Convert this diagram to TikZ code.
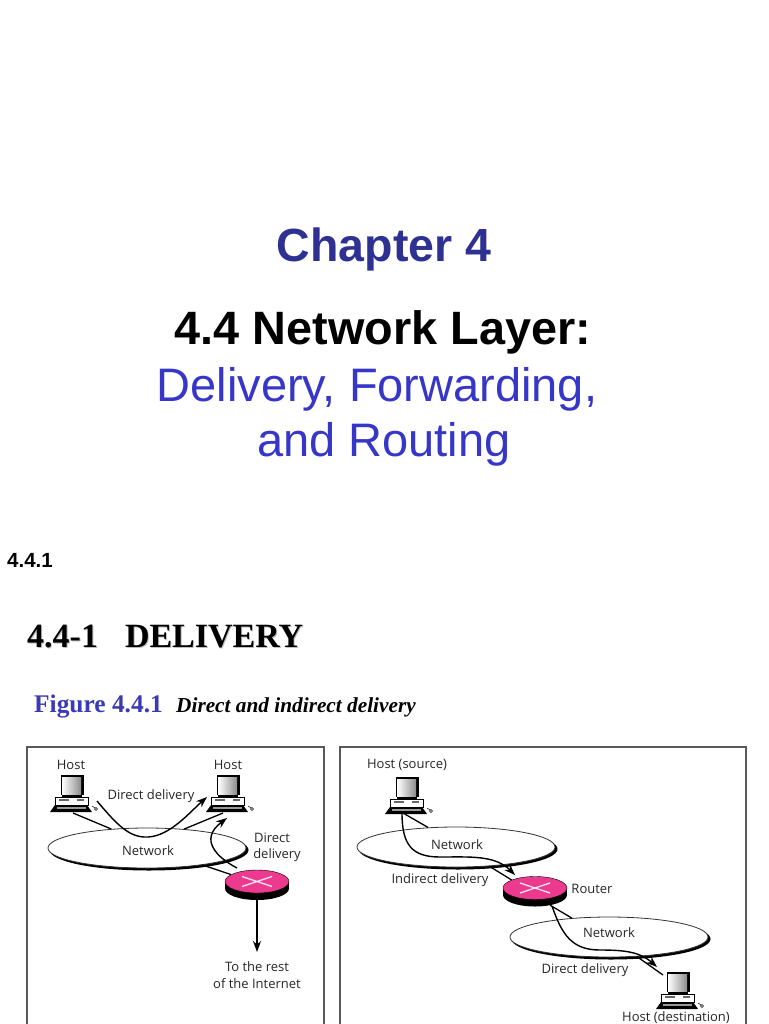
\documentclass[tikz,border=0pt]{standalone}
\usepackage{fontspec}
\setmainfont{Liberation Sans}
\newfontfamily\headfont{Liberation Serif}
\newfontfamily\labelfont{Open Sans}
\usetikzlibrary{shapes.geometric,arrows.meta}
\definecolor{chapblue}{HTML}{2E3192}
\definecolor{titleblue}{HTML}{3636C8}
\definecolor{figblue}{HTML}{3A3AB4}
\definecolor{routerpink}{HTML}{EC3A8E}
\tikzset{
  titlebig/.style={font=\fontsize{47}{50}\selectfont},
  headtext/.style={font=\headfont\bfseries\fontsize{34}{36}\selectfont},
  figtext/.style={font=\headfont\bfseries\fontsize{25.4}{28}\selectfont,text=figblue},
  captext/.style={font=\headfont\bfseries\itshape\fontsize{21.3}{24}\selectfont},
  lab/.style={font=\labelfont\fontsize{13}{17}\selectfont,text=black!85,align=center,inner sep=0},
  netshape/.style={ellipse,draw=black!80,fill=white,line width=0.8pt,minimum width=198pt,minimum height=40pt,inner sep=0},
  netshadow/.style={ellipse,fill=black,minimum width=199pt,minimum height=41pt,inner sep=0},
  frameline/.style={draw=black!65,line width=1.2pt},
  wire/.style={draw=black,line width=1.3pt},
  carry/.style={draw=black,line width=1.4pt,-{Stealth[length=11pt,width=8pt]}},
  pics/hostpc/.style={code={
    \fill[black] (-10,0) rectangle (10,2);
    \draw[black,fill=white,line width=0.5pt] (-17,2) rectangle (16,10);
    \fill[black!60] (-13,4) rectangle (-3,6);
    \fill[black!60] (5,4) rectangle (12,6);
    \fill[black] (-11,0) -- (-11,-20) -- (12,-20) -- (12,0) -- cycle;
    \shade[left color=white,right color=black!45] (-10,-1) rectangle (9,-18);
    \fill[black] (-17,10) -- (15,10) -- (20,17) -- (-22,17) -- cycle;
    \fill[black!40] (-15,12) rectangle (14,14);
    \draw[black,line width=0.5pt] (20,11) -- (23,13);
    \draw[black,fill=white,line width=0.4pt] (24,14) circle (1.5);
  }},
  pics/routerbox/.style={code={
    \node[ellipse,fill=black,minimum width=64pt,minimum height=23pt,inner sep=0] (-low) at (0,7) {};
    \fill[black] (-32,0) rectangle (32,7);
    \node[ellipse,draw=black,fill=routerpink,line width=0.4pt,minimum width=64pt,minimum height=23pt,inner sep=0] (-top) at (0,0) {};
    \draw[white!85!routerpink,line width=1.3pt] (-15,-5) -- (15,5) (-15,5) -- (15,-5);
  }}
}
\begin{document}
\begin{tikzpicture}[x=1pt,y=-1pt]
\fill[white] (0,0) rectangle (768,1024);
\useasboundingbox (0,0) rectangle (768,1024);
% titles
\node[font=\bfseries\fontsize{46.5}{50}\selectfont,text=chapblue] (chaptitle) at (384,249) {Chapter 4};
\node[font=\bfseries\fontsize{46.8}{50}\selectfont] (layertitle) at (383,332) {4.4 Network Layer:};
\node[titlebig,text=titleblue] (deliverytitle) at (377,389) {Delivery, Forwarding,};
\node[titlebig,text=titleblue] (routingtitle) at (384,444) {and Routing};
\node[font=\bfseries\fontsize{20.5}{22}\selectfont,anchor=west,inner sep=0] (secnum) at (7,560) {4.4.1};
\node[headtext,text=black!25,anchor=west,inner sep=0] (headshadow) at (28,638) {4.4-1\hspace{27pt}DELIVERY};
\node[headtext,anchor=west,inner sep=0] (headtitle) at (27,636.5) {4.4-1\hspace{27pt}DELIVERY};
\node[figtext,anchor=west,inner sep=0] (figtitle) at (34,706) {Figure 4.4.1};
\node[captext,anchor=west,inner sep=0] (figcaption) at (176,707.5) {Direct and indirect delivery};
% frames
\draw[frameline] (27,1024) -- (27,747) -- (324,747) -- (324,1024);
\draw[frameline] (340,1024) -- (340,747) -- (746,747) -- (746,1024);
% left panel
\node[netshadow] (netAshadow) at (149,850) {};
\node[netshape] (netA) at (147,848) {};
\pic (hostA) at (72,795) {hostpc};
\pic (hostB) at (228,795) {hostpc};
\pic (routerA) at (257,881.5) {routerbox};
\coordinate (hostAplug) at (73,813);
\coordinate (hostBplug) at (223,813);
\draw[wire] (hostAplug) -- (netA.152);
\draw[wire] (hostBplug) -- (netA.27);
\draw[wire] (routerA-top.165) -- (netA.-17);
\coordinate (directAstart) at (97,801);
\coordinate (directAend) at (207,797);
\coordinate (directBstart) at (237,868);
\coordinate (directBend) at (227,818);
\coordinate (internetend) at (257,952);
\draw[carry] (directAstart) .. controls (118,826) and (130,838) .. (148,837) .. controls (170,836) and (190,812) .. (directAend);
\draw[carry] (directBstart) .. controls (218,858) and (198,840) .. (directBend);
\draw[carry] (routerA-low.south) -- (internetend);
\node[lab] (hostAlab) at (71,765) {Host};
\node[lab] (hostBlab) at (228,765) {Host};
\node[lab] (directAlab) at (151,796) {Direct delivery};
\node[lab] (netAlab) at (148,851) {Network};
\node[lab] (directBlab) at (272,838) {Direct};
\node[lab] (directClab) at (277,855) {delivery};
\node[lab] (internetlab) at (257,975) {To the rest\\of the Internet};
% right panel
\node[netshadow] (netBshadow) at (458,849) {};
\node[netshape] (netB) at (456,847) {};
\node[netshadow] (netCshadow) at (611,939) {};
\node[netshape] (netC) at (609,937) {};
\pic (hostC) at (407,797) {hostpc};
\pic (hostD) at (678,992) {hostpc};
\pic (routerB) at (535,888) {routerbox};
\coordinate (hostCplug) at (403,813);
\coordinate (hostDplug) at (663,975);
\draw[wire] (hostCplug) -- (netB.145);
\draw[wire] (routerB-top.161) -- (netB.-30);
\draw[wire] (routerB-low.-34) -- (netC.153);
\draw[wire] (netC.-35) -- (hostDplug);
\coordinate (indirectstart) at (402,813);
\coordinate (indirectend) at (515,875);
\coordinate (directDstart) at (552,906);
\coordinate (directDend) at (657,967);
\draw[carry] (indirectstart) .. controls (402,845) and (412,857) .. (440,857) .. controls (470,857) and (495,855) .. (indirectend);
\draw[carry] (directDstart) .. controls (562,935) and (572,950) .. (600,950) .. controls (625,950) and (640,952) .. (directDend);
\node[lab] (hostClab) at (407,765) {Host (source)};
\node[lab] (netBlab) at (457,845) {Network};
\node[lab] (indirectlab) at (440,880) {Indirect delivery};
\node[lab] (routerlab) at (592,889) {Router};
\node[lab] (netClab) at (609,933) {Network};
\node[lab] (directDlab) at (585,970) {Direct delivery};
\node[lab] (hostDlab) at (676,1018) {Host (destination)};
\end{tikzpicture}
\end{document}
